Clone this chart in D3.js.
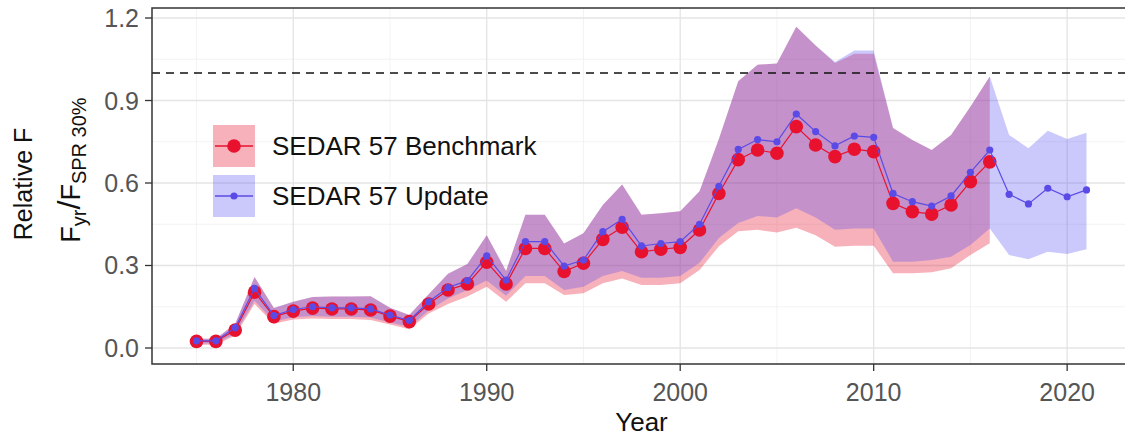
<!DOCTYPE html>
<html><head><meta charset="utf-8">
<script src="https://cdn.jsdelivr.net/npm/d3@7"></script>
<style>body{margin:0;background:#fff} svg{display:block}</style>
</head><body><svg id="c" width="1125" height="439"></svg>
<script>
const benchYears = d3.range(1975, 2017);
const updYears = d3.range(1975, 2022);
const benchF = [0.024,0.024,0.065,0.203,0.114,0.134,0.145,0.142,0.142,0.138,
  0.116,0.096,0.16,0.211,0.233,0.312,0.233,0.362,0.362,0.278,
  0.308,0.395,0.439,0.350,0.359,0.366,0.429,0.562,0.685,0.72,
  0.708,0.805,0.738,0.696,0.723,0.714,0.526,0.496,0.487,0.52,
  0.605,0.677];
const benchHi = [0.034,0.034,0.088,0.258,0.145,0.168,0.185,0.187,0.187,0.188,
  0.146,0.12,0.195,0.27,0.305,0.41,0.28,0.485,0.485,0.38,
  0.417,0.52,0.595,0.485,0.49,0.497,0.57,0.76,0.97,1.03,
  1.035,1.168,1.10,1.036,1.07,1.07,0.80,0.756,0.72,0.775,
  0.877,0.987];
const benchLo = [0.012,0.012,0.045,0.16,0.088,0.104,0.107,0.105,0.105,0.102,
  0.085,0.068,0.125,0.16,0.187,0.223,0.168,0.235,0.235,0.193,
  0.199,0.235,0.253,0.229,0.229,0.235,0.284,0.37,0.425,0.43,
  0.42,0.437,0.41,0.368,0.372,0.372,0.272,0.272,0.275,0.29,
  0.338,0.381];
const updF = [0.026,0.026,0.074,0.217,0.118,0.14,0.15,0.146,0.146,0.142,
  0.12,0.1,0.168,0.22,0.245,0.335,0.247,0.387,0.387,0.298,
  0.32,0.423,0.468,0.371,0.38,0.387,0.45,0.588,0.722,0.758,
  0.75,0.851,0.787,0.735,0.771,0.766,0.562,0.532,0.516,0.553,
  0.639,0.72,0.559,0.524,0.581,0.55,0.575];
const updHi = [0.034,0.034,0.088,0.258,0.145,0.168,0.185,0.187,0.187,0.188,
  0.146,0.12,0.195,0.27,0.305,0.41,0.28,0.485,0.485,0.38,
  0.417,0.52,0.595,0.485,0.49,0.497,0.57,0.76,0.97,1.03,
  1.035,1.168,1.10,1.04,1.082,1.082,0.80,0.756,0.72,0.775,
  0.877,0.987,0.775,0.726,0.79,0.76,0.783];
const updLo = [0.016,0.016,0.052,0.172,0.096,0.112,0.116,0.114,0.114,0.111,
  0.093,0.076,0.136,0.18,0.211,0.245,0.19,0.262,0.262,0.211,
  0.223,0.262,0.28,0.255,0.255,0.262,0.31,0.40,0.455,0.48,
  0.475,0.508,0.475,0.43,0.435,0.435,0.314,0.314,0.32,0.332,
  0.375,0.435,0.338,0.323,0.35,0.342,0.359];
const refLine = 1.0;
const yTicks = [0, 0.3, 0.6, 0.9, 1.2];
const yMinor = [0.15, 0.45, 0.75, 1.05];
const xTicks = [1980, 1990, 2000, 2010, 2020];
const xMinor = [1975, 1985, 1995, 2005, 2015];
const seriesNames = ["SEDAR 57 Benchmark", "SEDAR 57 Update"];

const redCol = "#E8122F", blueCol = "#4B45F5", bluePt = "#5B4BE6";
const svg = d3.select("#c");
const L = 152, R = 1131, T = 8, B = 364;
const x = d3.scaleLinear().domain([1972.7, 2023.3]).range([L, R]);
const y = d3.scaleLinear().domain([-0.0582, 1.2364]).range([B, T]);
const font = "'Liberation Sans', Arial, sans-serif";

svg.append("clipPath").attr("id","pc").append("rect")
  .attr("x",L).attr("y",T).attr("width",R-L).attr("height",B-T);
const g = svg.append("g").attr("clip-path","url(#pc)");

// grid
g.selectAll(".ym").data(yMinor).join("line").attr("x1",L).attr("x2",R)
  .attr("y1",d=>y(d)).attr("y2",d=>y(d)).attr("stroke","#f0f0f0").attr("stroke-width",0.8);
g.selectAll(".xm").data(xMinor).join("line").attr("y1",T).attr("y2",B)
  .attr("x1",d=>x(d)).attr("x2",d=>x(d)).attr("stroke","#f0f0f0").attr("stroke-width",0.8);
g.selectAll(".yM").data(yTicks).join("line").attr("x1",L).attr("x2",R)
  .attr("y1",d=>y(d)).attr("y2",d=>y(d)).attr("stroke","#e4e4e4").attr("stroke-width",1.3);
g.selectAll(".xM").data(xTicks).join("line").attr("y1",T).attr("y2",B)
  .attr("x1",d=>x(d)).attr("x2",d=>x(d)).attr("stroke","#e4e4e4").attr("stroke-width",1.3);

// ribbons
const bench = benchYears.map((yr,i)=>({yr, f:benchF[i], lo:benchLo[i], hi:benchHi[i]}));
const upd = updYears.map((yr,i)=>({yr, f:updF[i], lo:updLo[i], hi:updHi[i]}));
const area = d3.area().x(d=>x(d.yr)).y0(d=>y(d.lo)).y1(d=>y(d.hi));
g.append("path").datum(bench).attr("d",area).attr("fill",redCol).attr("fill-opacity",0.33);
g.append("path").datum(upd).attr("d",area).attr("fill",blueCol).attr("fill-opacity",0.29);

// reference line
g.append("line").attr("x1",L).attr("x2",R).attr("y1",y(refLine)).attr("y2",y(refLine))
  .attr("stroke","#111").attr("stroke-width",1.6).attr("stroke-dasharray","8,6");

const line = d3.line().x(d=>x(d.yr)).y(d=>y(d.f));
g.append("path").datum(bench).attr("d",line).attr("fill","none").attr("stroke",redCol).attr("stroke-width",1.2);
g.selectAll(".rp").data(bench).join("circle").attr("cx",d=>x(d.yr)).attr("cy",d=>y(d.f))
  .attr("r",6.8).attr("fill",redCol);
g.append("path").datum(upd).attr("d",line).attr("fill","none").attr("stroke",bluePt).attr("stroke-width",1.2);
g.selectAll(".bp").data(upd).join("circle").attr("cx",d=>x(d.yr)).attr("cy",d=>y(d.f))
  .attr("r",3.6).attr("fill",bluePt);

// panel border
svg.append("rect").attr("x",L).attr("y",T).attr("width",R-L).attr("height",B-T)
  .attr("fill","none").attr("stroke","#333").attr("stroke-width",1.5);

// axes ticks & labels
svg.selectAll(".yt").data(yTicks).join("line").attr("x1",L-7).attr("x2",L)
  .attr("y1",d=>y(d)).attr("y2",d=>y(d)).attr("stroke","#333").attr("stroke-width",1.3);
svg.selectAll(".ytl").data(yTicks).join("text").attr("x",L-13).attr("y",d=>y(d))
  .attr("dy","0.36em").attr("text-anchor","end").attr("font-family",font).attr("font-size",25)
  .attr("fill","#555").text(d=>d3.format(".1f")(d));
svg.selectAll(".xt").data(xTicks).join("line").attr("y1",B).attr("y2",B+7)
  .attr("x1",d=>x(d)).attr("x2",d=>x(d)).attr("stroke","#333").attr("stroke-width",1.3);
svg.selectAll(".xtl").data(xTicks).join("text").attr("x",d=>x(d)).attr("y",401)
  .attr("text-anchor","middle").attr("font-family",font).attr("font-size",25)
  .attr("fill","#555").text(d=>d);

svg.append("text").attr("x",(L+R)/2).attr("y",431).attr("text-anchor","middle")
  .attr("font-family",font).attr("font-size",26).attr("fill","#111").text("Year");

// y title
svg.append("text").attr("transform","translate(32,184) rotate(-90)").attr("text-anchor","middle")
  .attr("font-family",font).attr("font-size",25).attr("fill","#111").text("Relative F");
const t2 = svg.append("text").attr("transform","translate(80,170) rotate(-90)").attr("text-anchor","middle")
  .attr("font-family",font).attr("font-size",27).attr("fill","#111");
t2.append("tspan").text("F");
t2.append("tspan").attr("font-size",20).attr("dy",6).text("yr");
t2.append("tspan").attr("font-size",32).attr("dy",-6).text("/");
t2.append("tspan").text("F");
t2.append("tspan").attr("font-size",20).attr("dy",6).text("SPR 30%");

// legend
const leg = [{name:seriesNames[0], col:redCol, fill:redCol, op:0.33, r:6.8, top:125},
             {name:seriesNames[1], col:bluePt, fill:blueCol, op:0.29, r:3.6, top:175}];
const lg = svg.selectAll(".lg").data(leg).join("g");
lg.append("rect").attr("x",213).attr("y",d=>d.top).attr("width",42).attr("height",42)
  .attr("fill",d=>d.fill).attr("fill-opacity",d=>d.op);
lg.append("line").attr("x1",215).attr("x2",253).attr("y1",d=>d.top+21).attr("y2",d=>d.top+21)
  .attr("stroke",d=>d.col).attr("stroke-width",1.4);
lg.append("circle").attr("cx",234).attr("cy",d=>d.top+21).attr("r",d=>d.r).attr("fill",d=>d.col);
lg.append("text").attr("x",272).attr("y",d=>d.top+21).attr("dy","0.36em")
  .attr("font-family",font).attr("font-size",26).attr("fill","#111").text(d=>d.name);
</script></body></html>
